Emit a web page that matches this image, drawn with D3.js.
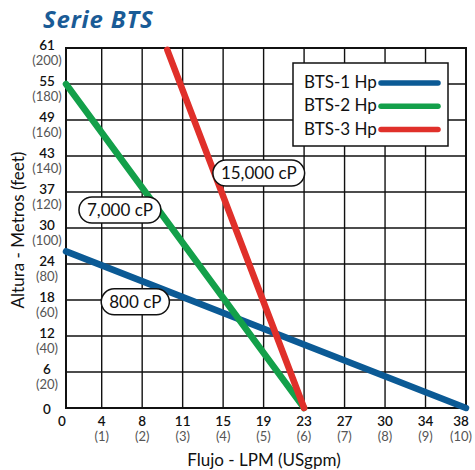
<!DOCTYPE html>
<html>
<head>
<meta charset="utf-8">
<script src="https://cdn.jsdelivr.net/npm/d3@7"></script>
<style>
  body { margin: 0; background: #fff; }
  svg { display: block; font-family: Lato, "Open Sans", sans-serif; }
</style>
</head>
<body>
<svg id="chart" width="475" height="470"></svg>
<script>
// ---- data ----
var gpmTicks = [0, 1, 2, 3, 4, 5, 6, 7, 8, 9, 10];
var lpmLabels = ["0", "4", "8", "11", "15", "19", "23", "27", "30", "34", "38"];
var ftTicks = [0, 20, 40, 60, 80, 100, 120, 140, 160, 180, 200];
var mLabels = ["0", "6", "12", "18", "24", "30", "37", "43", "49", "55", "61"];

var series = ["BTS-1 Hp", "BTS-2 Hp", "BTS-3 Hp"];
var colors = ["#0b5a95", "#13a04a", "#e0302a"];
var bts1 = [[0, 87], [10, 0]];
var bts2 = [[0, 180], [6, 0]];
var bts3 = [[2.62, 199], [6, 0]];

var notes = ["800 cP", "7,000 cP", "15,000 cP"];
var noteAt = [[1.83, 59], [1.45, 110], [4.88, 130.5]];

// ---- scales ----
var svg = d3.select("#chart");
// first column of the original grid is a bit narrower
var x = d3.scaleLinear().domain([0, 1, 10]).range([66, 101.7, 466]);
var y = d3.scaleLinear().domain([0, 200]).range([408, 48]);

// grid
var grid = svg.append("g");
grid.selectAll(".vx").data(gpmTicks.slice(1, -1)).enter().append("line")
  .attr("x1", function(d){ return x(d); }).attr("x2", function(d){ return x(d); })
  .attr("y1", y(0)).attr("y2", y(200))
  .attr("stroke", "#111").attr("stroke-width", 1.4);
grid.selectAll(".hy").data(ftTicks.slice(1, -1)).enter().append("line")
  .attr("x1", x(0)).attr("x2", x(10))
  .attr("y1", function(d){ return y(d); }).attr("y2", function(d){ return y(d); })
  .attr("stroke", "#111").attr("stroke-width", 1.4);
grid.append("rect")
  .attr("x", x(0)).attr("y", y(200))
  .attr("width", x(10) - x(0)).attr("height", y(0) - y(200))
  .attr("fill", "none").attr("stroke", "#111").attr("stroke-width", 2);

// lines
var line = d3.line().x(function(d){ return x(d[0]); }).y(function(d){ return y(d[1]); });
[bts1, bts2, bts3].forEach(function(s, i){
  svg.append("path").attr("d", line(s))
    .attr("fill", "none").attr("stroke", colors[i])
    .attr("stroke-width", 6.5).attr("stroke-linecap", "round");
});

// viscosity labels
notes.forEach(function(t, i){
  var g = svg.append("g").attr("transform", "translate(" + x(noteAt[i][0]) + "," + y(noteAt[i][1]) + ")");
  var txt = g.append("text").text(t).attr("text-anchor", "middle").attr("dy", "0.35em")
    .attr("font-size", 17).attr("fill", "#111");
  var w = txt.node().getComputedTextLength() + 16;
  g.insert("rect", "text").attr("x", -w / 2).attr("y", -13).attr("width", w).attr("height", 26)
    .attr("rx", 13).attr("fill", "#fff").attr("stroke", "#111").attr("stroke-width", 1.5);
});

// y tick labels
var yl = svg.append("g").attr("text-anchor", "middle");
ftTicks.forEach(function(d, i){
  yl.append("text").attr("x", 47).attr("y", y(d) + (d === 0 ? 6 : 2)).text(mLabels[i])
    .attr("font-size", 13.5).attr("font-weight", 600).attr("fill", "#111");
  if (d > 0) {
    yl.append("text").attr("x", 47).attr("y", y(d) + 16.5).text("(" + d + ")")
      .attr("font-size", 13).attr("fill", "#555");
  }
});

// x tick labels
var xl = svg.append("g").attr("text-anchor", "middle");
gpmTicks.forEach(function(d, i){
  var px = d === 0 ? 62 : (d === 10 ? x(d) - 5 : x(d));
  xl.append("text").attr("x", px).attr("y", 426).text(lpmLabels[i])
    .attr("font-size", 13.5).attr("font-weight", 600).attr("fill", "#111");
  if (d > 0) {
    xl.append("text").attr("x", px).attr("y", 441).text("(" + d + ")")
      .attr("font-size", 13).attr("fill", "#555");
  }
});

// axis titles
svg.append("text").attr("x", 264).attr("y", 466).attr("text-anchor", "middle")
  .attr("font-size", 17).attr("fill", "#111").text("Flujo - LPM (USgpm)");
svg.append("text").attr("transform", "translate(24,230) rotate(-90)").attr("text-anchor", "middle")
  .attr("font-size", 17).attr("fill", "#111").text("Altura - Metros (feet)");

// title
svg.append("text").attr("x", 43).attr("y", 28).attr("font-size", 24)
  .attr("font-family", "'Open Sans', sans-serif").attr("letter-spacing", 0.8)
  .attr("font-weight", "bold").attr("font-style", "italic").attr("fill", "#1a5b96").text("Serie BTS");

// legend
var lg = svg.append("g");
lg.append("rect").attr("x", 293).attr("y", 63).attr("width", 155).attr("height", 83)
  .attr("fill", "#fff").attr("stroke", "#111").attr("stroke-width", 1.5);
series.forEach(function(s, i){
  var cy = 82 + i * 23.3;
  lg.append("text").attr("x", 304).attr("y", cy).attr("dy", "0.35em")
    .attr("font-size", 17).attr("fill", "#111").text(s);
  lg.append("line").attr("x1", 381).attr("x2", 438).attr("y1", cy + 1).attr("y2", cy + 1)
    .attr("stroke", colors[i]).attr("stroke-width", 5.5).attr("stroke-linecap", "round");
});
</script>
</body>
</html>
